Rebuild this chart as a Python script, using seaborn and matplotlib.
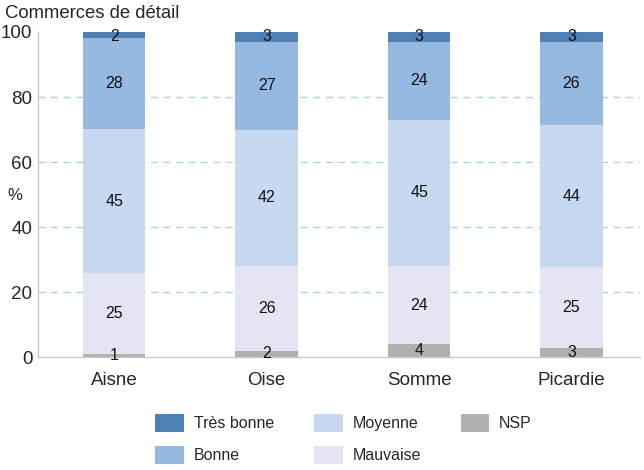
import matplotlib
matplotlib.use("Agg", force=True)
import matplotlib.pyplot as plt
from matplotlib.patches import Patch
import numpy as np
import pandas as pd
import seaborn as sns

REGIONS = ["Aisne", "Oise", "Somme", "Picardie"]
LEVELS = ["Très bonne", "Bonne", "Moyenne", "Mauvaise", "NSP"]
TRES_BONNE = [2, 3, 3, 3]
BONNE = [28, 27, 24, 26]
MOYENNE = [45, 42, 45, 44]
MAUVAISE = [25, 26, 24, 25]
NSP = [1, 2, 4, 3]
COLORS = {
    "Très bonne": "#4f81b6",
    "Bonne": "#95b9e1",
    "Moyenne": "#c7d9f1",
    "Mauvaise": "#e4e5f3",
    "NSP": "#b0b0b0",
}

values = {
    "Très bonne": TRES_BONNE,
    "Bonne": BONNE,
    "Moyenne": MOYENNE,
    "Mauvaise": MAUVAISE,
    "NSP": NSP,
}
frame = pd.DataFrame(values, index=REGIONS)
stack_order = LEVELS[::-1]  # bottom to top
# rounded labels may add to 101; bars are drawn as shares of 100
shares = frame.div(frame.sum(axis=1), axis=0) * 100
cum = shares[stack_order].cumsum(axis=1)

sns.set_theme(style="white")
plt.rcParams["font.family"] = ["Liberation Sans", "DejaVu Sans"]

fig = plt.figure(figsize=(6.44, 4.70), dpi=100)
ax = fig.add_axes([0.059, 0.240, 0.935, 0.692])

# draw cumulative bars from top level to bottom so lower layers overlap
for level in LEVELS:
    data = pd.DataFrame({"region": REGIONS, "top": cum[level].values})
    sns.barplot(data=data, x="region", y="top", color=COLORS[level], width=0.41,
                saturation=1, linewidth=0, edgecolor="none", ax=ax, zorder=2)

for i, region in enumerate(REGIONS):
    base = 0
    for level in stack_order:
        v = shares.loc[region, level]
        ax.text(i, min(base + v / 2, 98.7), str(frame.loc[region, level]),
                ha="center", va="center", fontsize=11.5, color="#111111", zorder=4)
        base += v

ax.set_ylim(0, 100)
ax.set_xlim(-0.5, 3.45)
ax.set_yticks(range(0, 101, 20))
for y in range(20, 100, 20):
    ax.axhline(y, color="#a9d3ee", linestyle=(0, (5, 4)), linewidth=1.0, zorder=1)
ax.set_xlabel("")
ax.set_ylabel("")
ax.tick_params(axis="y", labelsize=13.5, length=0, pad=4)
ax.tick_params(axis="x", labelsize=13.5, length=0, pad=11)
ax.set_xticks([0.5, 1.5, 2.5], minor=True)
ax.tick_params(axis="x", which="minor", length=4, color="#bbbbbb", direction="out")
for side in ["top", "right"]:
    ax.spines[side].set_visible(False)
for side in ["left", "bottom"]:
    ax.spines[side].set_color("#c8c8c8")
    ax.spines[side].set_linewidth(1.0)

fig.text(0.008, 0.972, "Commerces de détail", fontsize=13.3, ha="left", va="center")
fig.text(0.012, 0.585, "%", fontsize=12, ha="left", va="center")

handles = [Patch(facecolor=COLORS[l], edgecolor="none", label=l) for l in LEVELS]
fig.legend(handles=handles, ncol=3, loc="lower left", bbox_to_anchor=(0.219, -0.018),
           frameon=False, fontsize=11.5, handlelength=1.8, handleheight=1.35,
           columnspacing=2.5, handletextpad=0.6, labelspacing=0.9)

fig.savefig("out.png", dpi=100)
